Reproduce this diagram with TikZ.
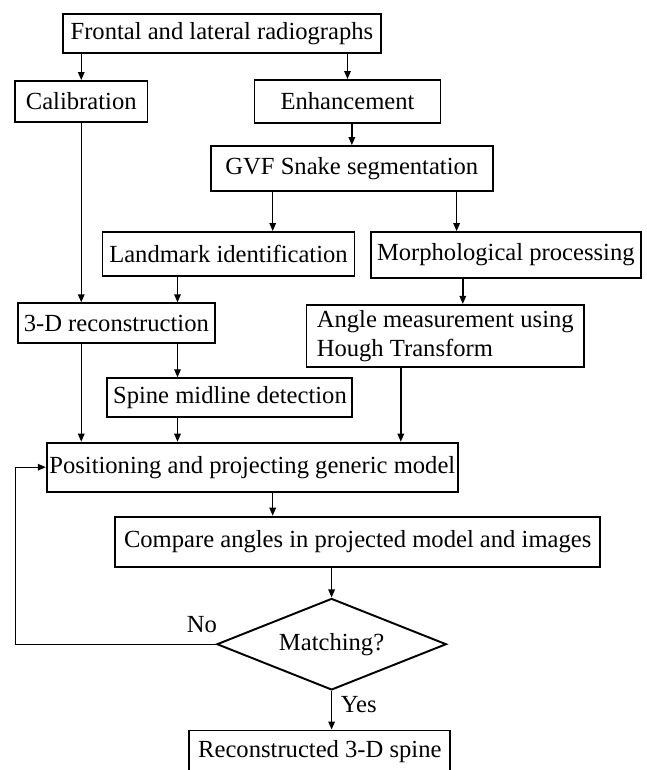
\documentclass[tikz,border=0pt]{standalone}
\usepackage{fontspec}
\setmainfont{Liberation Serif}
\usetikzlibrary{
  arrows.meta,
  positioning,
  calc,
  shapes.geometric
}
\tikzset{
  >={Triangle[length=1.6mm, width=1.3mm]},
  every picture/.style={line join=miter},
  every node/.style={font=\fontsize{14}{16}\selectfont},
  block/.style={
    draw,
    line width=1.1pt,
    align=center,
    inner sep=0pt,
    minimum height=8mm
  },
  decision/.style={draw, diamond, aspect=2.5, line width=1.1pt, inner sep=0pt},
  arrow/.style={->, line width=0.8pt},
  annot/.style={inner sep=0pt}
}

\begin{document}
\begin{tikzpicture}
  \useasboundingbox (0,0) rectangle (12.94,-15.4);

  % Input and the two preprocessing branches
  \node[block, minimum width=6.36cm, minimum height=7.8mm] (radio) at (4.438,-0.67) {Frontal and lateral radiographs};
  \node[block, minimum width=2.65cm, minimum height=8.2mm] (calib) at (1.625,-2.03) {Calibration};
  \node[block, minimum width=3.72cm, minimum height=8.6mm] (enhance) at (6.95,-2.03) {Enhancement};
  \node[block, minimum width=5.65cm, minimum height=8.9mm] (gvf) at (7.037,-3.367) {GVF Snake segmentation};
  \node[block, minimum width=5.04cm, minimum height=8.8mm] (landmark) at (4.57,-5.08) {Landmark identification};
  \node[block, minimum width=5.41cm, minimum height=9.1mm] (morph) at (10.116,-5.097) {Morphological processing};
  \node[block, minimum width=3.94cm] (recon) at (2.327,-6.466) {3-D reconstruction};
  \node[block, align=left, minimum width=5.55cm, minimum height=12.5mm] (angle) at (8.905,-6.723) {Angle measurement using\\Hough Transform};
  \node[block, minimum width=4.9cm, minimum height=7.7mm] (midline) at (4.599,-7.95) {Spine midline detection};

  % Model fitting loop
  \node[block, minimum width=8.22cm, minimum height=9.8mm] (position) at (5.046,-9.344) {Positioning and projecting generic model};
  \node[block, minimum width=9.71cm, minimum height=10mm] (compare) at (7.153,-10.834) {Compare angles in projected model and images};
  \node[decision, minimum width=4.59cm, minimum height=1.83cm] (match) at (6.632,-12.884) {Matching?};
  \node[block, minimum width=5.22cm, minimum height=8.4mm] (spine) at (6.397,-15.03) {Reconstructed 3-D spine};

  % Columns of the vertical connectors
  \coordinate (colB) at (3.55,0);
  \coordinate (colC) at (5.454,0);
  \coordinate (colD) at (8.016,0);
  \coordinate (colM) at (9.132,0);
  \coordinate (colA) at (9.256,0);
  \coordinate (loop) at (0.314,-12.884);

  % Arrows
  \draw[arrow] (calib.north |- radio.south) -- (calib.north);
  \draw[arrow] (enhance.north |- radio.south) -- (enhance.north);
  \draw[arrow] (gvf.north |- enhance.south) -- (gvf.north);
  \draw[arrow] (gvf.south -| colC) -- (landmark.north -| colC);
  \draw[arrow] (gvf.south -| colM) -- (morph.north -| colM);
  \draw[arrow] (calib.south) -- (recon.north -| calib.south);
  \draw[arrow] (landmark.south -| colB) -- (recon.north -| colB);
  \draw[arrow] (morph.south -| colA) -- (angle.north -| colA);
  \draw[arrow] (recon.south -| calib.south) -- (position.north -| calib.south);
  \draw[arrow] (recon.south -| colB) -- (midline.north -| colB);
  \draw[arrow] (midline.south -| colB) -- (position.north -| colB);
  \draw[arrow] (angle.south -| colD) -- (position.north -| colD);
  \draw[arrow] (position.south -| colC) -- (compare.north -| colC);
  \draw[arrow] (compare.south -| match.north) -- (match.north);
  \draw[arrow] (match.south) -- (spine.north -| match.south);
  \draw[arrow] (match.west) -- (loop) |- (position.west);

  % Branch labels
  \node[annot] (no) at (4.04,-12.5) {No};
  \node[annot] (yes) at (7.174,-14.1) {Yes};
\end{tikzpicture}
\end{document}
